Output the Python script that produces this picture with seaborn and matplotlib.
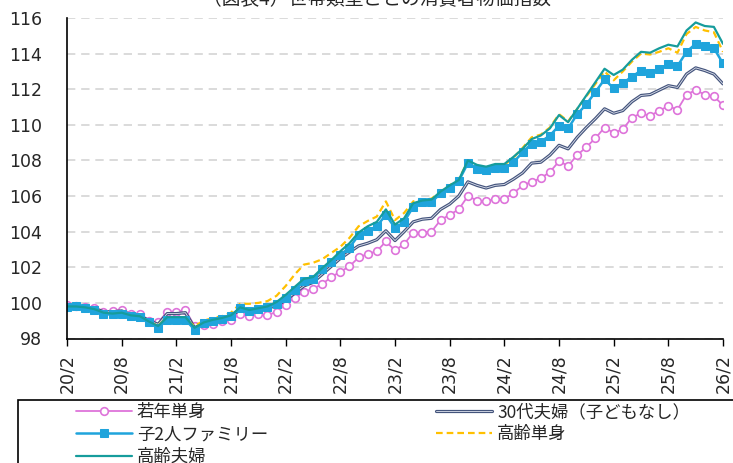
import numpy as np
import pandas as pd
import matplotlib
matplotlib.use('Agg')
import matplotlib.pyplot as plt
import matplotlib.patheffects as pe
from matplotlib.patches import Rectangle
import seaborn as sns

# monthly index, 2020/2 .. 2026/2
months = pd.period_range('2020-02', '2026-02', freq='M')
month_labels = [f'{p.year % 100}/{p.month}' for p in months]

young_single = [99.9, 99.8, 99.75, 99.7, 99.5, 99.55, 99.6, 99.35, 99.35, 99.0, 98.9, 99.5, 99.5, 99.6, 98.7,
                98.75, 98.8, 99.0, 99.05, 99.35, 99.25, 99.35, 99.3, 99.5, 99.9, 100.3, 100.6, 100.8, 101.05,
                101.45, 101.75, 102.05, 102.55, 102.75, 102.9, 103.45, 102.95, 103.3, 103.95, 103.95, 104.0,
                104.65, 104.95, 105.25, 106.0, 105.75, 105.7, 105.85, 105.85, 106.15, 106.6, 106.8, 107.0,
                107.35, 107.95, 107.7, 108.3, 108.75, 109.25, 109.85, 109.55, 109.75, 110.4, 110.65, 110.5,
                110.8, 111.05, 110.85, 111.7, 111.95, 111.7, 111.6, 111.1]
couple_30s = [99.85, 99.85, 99.75, 99.7, 99.5, 99.5, 99.55, 99.35, 99.3, 99.0, 98.8, 99.4, 99.4, 99.45, 98.6,
              98.85, 99.0, 99.15, 99.3, 99.6, 99.55, 99.6, 99.7, 99.85, 100.15, 100.55, 100.95, 101.15, 101.6,
              102.05, 102.5, 102.85, 103.2, 103.35, 103.55, 104.05, 103.5, 104.0, 104.55, 104.7, 104.75,
              105.25, 105.55, 106.0, 106.8, 106.6, 106.45, 106.6, 106.65, 106.95, 107.3, 107.85, 107.9,
              108.3, 108.85, 108.65, 109.3, 109.85, 110.35, 110.9, 110.65, 110.8, 111.3, 111.65, 111.7,
              111.95, 112.2, 112.1, 112.85, 113.2, 113.05, 112.85, 112.3]
family_2kids = [99.75, 99.8, 99.7, 99.6, 99.35, 99.35, 99.4, 99.25, 99.2, 98.9, 98.6, 99.05, 99.05, 99.05, 98.5,
                98.85, 99.0, 99.1, 99.25, 99.7, 99.55, 99.65, 99.75, 99.95, 100.3, 100.75, 101.25, 101.35, 101.9,
                102.3, 102.7, 103.1, 103.8, 104.05, 104.3, 104.95, 104.2, 104.55, 105.4, 105.65, 105.65,
                106.15, 106.45, 106.85, 107.85, 107.5, 107.45, 107.55, 107.55, 107.9, 108.45, 108.95, 109.05,
                109.4, 109.95, 109.8, 110.6, 111.15, 111.85, 112.55, 112.05, 112.35, 112.7, 113.05, 112.9,
                113.15, 113.4, 113.3, 114.1, 114.55, 114.4, 114.3, 113.45]
elderly_single = [99.8, 99.8, 99.7, 99.65, 99.45, 99.4, 99.4, 99.2, 99.2, 98.9, 98.75, 99.15, 99.15, 99.1, 98.7,
                  99.0, 99.15, 99.25, 99.45, 99.95, 99.95, 100.0, 100.1, 100.4, 100.95, 101.6, 102.15, 102.25,
                  102.45, 102.8, 103.15, 103.65, 104.3, 104.6, 104.85, 105.7, 104.65, 105.05, 105.7, 105.8,
                  105.85, 106.25, 106.6, 106.95, 107.95, 107.7, 107.6, 107.75, 107.75, 108.15, 108.7, 109.3,
                  109.45, 109.85, 110.6, 110.2, 110.9, 111.6, 112.3, 113.0, 112.5, 113.0, 113.55, 114.0, 113.95,
                  114.1, 114.3, 114.05, 115.1, 115.5, 115.3, 115.2, 114.1]
elderly_couple = [99.8, 99.8, 99.75, 99.65, 99.45, 99.4, 99.45, 99.3, 99.25, 98.95, 98.7, 99.2, 99.2, 99.2, 98.6,
                  98.9, 99.05, 99.15, 99.3, 99.75, 99.6, 99.7, 99.8, 100.05, 100.45, 100.9, 101.35, 101.45,
                  101.95, 102.4, 102.9, 103.35, 103.95, 104.3, 104.55, 105.25, 104.4, 104.75, 105.6, 105.75,
                  105.8, 106.25, 106.6, 106.9, 108.0, 107.75, 107.65, 107.8, 107.8, 108.2, 108.65, 109.2, 109.4,
                  109.8, 110.55, 110.15, 110.9, 111.65, 112.4, 113.15, 112.8, 113.1, 113.65, 114.1, 114.05,
                  114.3, 114.5, 114.4, 115.3, 115.75, 115.55, 115.5, 114.55]

x = np.arange(len(months))

sns.set_style('white')
plt.rcParams['font.family'] = ['DejaVu Sans', 'Noto Sans CJK JP']

fig = plt.figure(figsize=(7.33, 4.63), dpi=100)
W, H = 733, 463
ax = fig.add_axes([67 / W, 1 - 338.5 / H, (723 - 67) / W, (338.5 - 18) / H])

sns.lineplot(x=x, y=young_single, ax=ax, color='#DE74DA', lw=1.3, marker='o', markersize=5.5,
             markerfacecolor='white', markeredgecolor='#DE74DA', markeredgewidth=1.2, label='若年単身')
sns.lineplot(x=x, y=couple_30s, ax=ax, color='#dfe3ee', lw=0.6, label='30代夫婦（子どもなし）',
             path_effects=[pe.Stroke(linewidth=2.3, foreground='#44547c'), pe.Normal()])
sns.lineplot(x=x, y=elderly_single, ax=ax, color='#FFC000', lw=1.6, linestyle=(0, (3, 1.8)), label='高齢単身')
sns.lineplot(x=x, y=family_2kids, ax=ax, color='#1FA4DC', lw=1.8, marker='s', markersize=5.5,
             markeredgecolor='#1FA4DC', label='子2人ファミリー')
sns.lineplot(x=x, y=elderly_couple, ax=ax, color='#169C9C', lw=1.6, label='高齢夫婦')

ax.set_xlim(0, len(x) - 1)
ax.set_ylim(98, 116)
ax.set_yticks(np.arange(98, 117, 2))
ax.set_xticks(x[::6])
ax.set_xticklabels(month_labels[::6], rotation=90)
ax.tick_params(axis='x', length=5, width=1, color='black', direction='out', pad=6, labelsize=12.5, bottom=True)
ax.tick_params(axis='y', length=0, pad=18, labelsize=12.5)
ax.set_xlabel('')
ax.set_ylabel('')

ax.grid(axis='y', color='#d4d4d4', linestyle=(0, (5, 3.5)), lw=1.2)
ax.grid(axis='x', visible=False)
for s in ['top', 'right']:
    ax.spines[s].set_visible(False)
for s in ['left', 'bottom']:
    ax.spines[s].set_color('black')
    ax.spines[s].set_linewidth(1.2)

fig.text(377 / W, 1.0, '（図表4）世帯類型ごとの消費者物価指数', ha='center', va='center', fontsize=13.5,
         family=['Noto Sans CJK JP', 'DejaVu Sans'])

handles, labels = ax.get_legend_handles_labels()
ax.get_legend().remove()
order = ['若年単身', '子2人ファミリー', '高齢夫婦', '30代夫婦（子どもなし）', '高齢単身']
hmap = dict(zip(labels, handles))
fig.legend([hmap[k] for k in order], order, loc='upper left', bbox_to_anchor=(76 / W, 1 - 403 / H),
           ncol=2, frameon=False, handlelength=3.2, handletextpad=0.3,
           columnspacing=9.7, labelspacing=0.25, borderpad=0, borderaxespad=0,
           prop={'family': ['Noto Sans CJK JP', 'DejaVu Sans'], 'size': 12.5})
fig.add_artist(Rectangle((18 / W, -0.1), 1.2, (463 - 400) / H + 0.1, transform=fig.transFigure,
                         fill=False, edgecolor='black', lw=1.2))

fig.savefig('out.png', dpi=100)
